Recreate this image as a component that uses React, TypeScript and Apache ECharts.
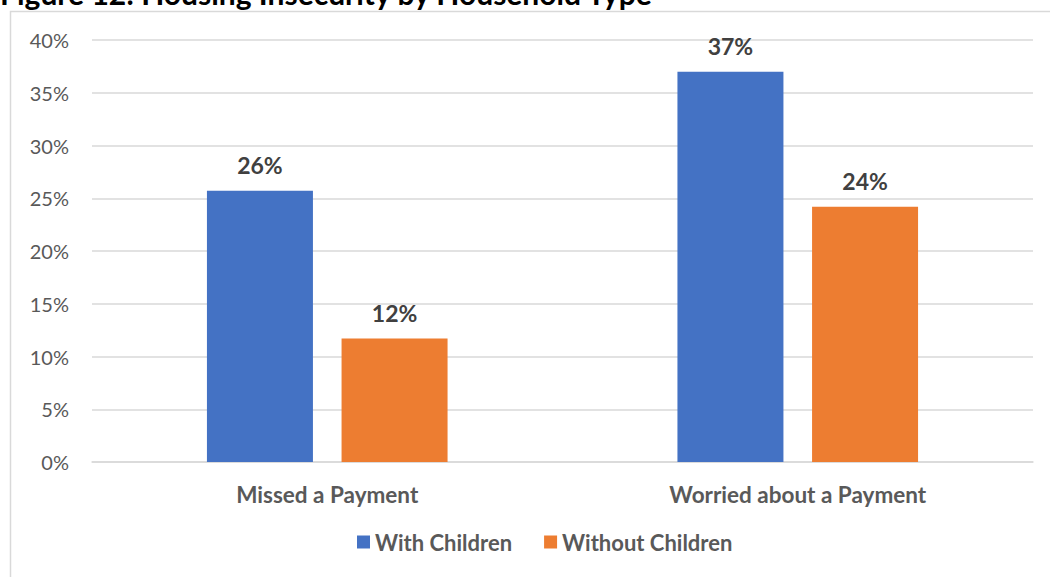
import React, { useEffect, useRef } from "react";
import * as echarts from "echarts";

const categories = ["Missed a Payment", "Worried about a Payment"];
const withChildren = [25.7, 37.0];
const withoutChildren = [11.7, 24.2];
const seriesNames = ["With Children", "Without Children"];
const titleText = "Figure 12: Housing Insecurity by Household Type";

const FONT = "Lato";

export default function App() {
  const ref = useRef<HTMLDivElement>(null);
  useEffect(() => {
    if (!ref.current) return;
    const chart = echarts.init(ref.current, null, { renderer: "svg" });
    const labelStyle = {
      show: true,
      position: "top" as const,
      distance: 14,
      color: "#404040",
      fontFamily: FONT,
      fontWeight: "bold" as const,
      fontSize: 23,
      formatter: (p: any) => Math.round(p.value) + "%",
    };
    chart.setOption({
      animation: false,
      backgroundColor: "#ffffff",
      textStyle: { fontFamily: FONT },
      graphic: [
        {
          type: "rect",
          shape: { x: 10.5, y: 11.5, width: 1100, height: 700 },
          style: { fill: "none", stroke: "#d9d9d9", lineWidth: 1.5 },
          silent: true,
          z: -10,
        },
        {
          type: "text",
          x: 0,
          y: -7,
          style: {
            text: titleText,
            fill: "#000000",
            font: `bold 30px ${FONT}`,
            verticalAlign: "middle",
            align: "left",
          },
        },
      ],
      grid: { left: 92, right: 17, top: 40, bottom: 115, containLabel: false },
      legend: {
        bottom: 19,
        left: 352,
        itemWidth: 13,
        itemHeight: 13,
        itemGap: 32,
        icon: "rect",
        textStyle: {
          color: "#595959",
          fontFamily: FONT,
          fontWeight: "bold",
          fontSize: 22,
        },
        data: seriesNames,
      },
      xAxis: {
        type: "category",
        data: categories,
        axisTick: { show: false },
        axisLine: { lineStyle: { color: "#d9d9d9", width: 1.5 } },
        axisLabel: {
          color: "#595959",
          fontFamily: FONT,
          fontWeight: "bold",
          fontSize: 22.5,
          margin: 21,
        },
      },
      yAxis: {
        type: "value",
        min: 0,
        max: 40,
        interval: 5,
        axisLine: { show: false },
        axisTick: { show: false },
        splitLine: { lineStyle: { color: "#d9d9d9", width: 1.5 } },
        axisLabel: {
          formatter: "{value}%",
          color: "#595959",
          fontFamily: FONT,
          fontSize: 20,
          margin: 23,
        },
      },
      series: [
        {
          name: seriesNames[0],
          type: "bar",
          data: withChildren,
          barWidth: 106,
          barGap: "27%",
          itemStyle: { color: "#4472C4" },
          label: labelStyle,
        },
        {
          name: seriesNames[1],
          type: "bar",
          data: withoutChildren,
          barWidth: 106,
          barGap: "27%",
          itemStyle: { color: "#ED7D31" },
          label: labelStyle,
        },
      ],
    });
    return () => chart.dispose();
  }, []);
  return (
    <div
      ref={ref}
      style={{ position: "absolute", left: 0, top: 0, width: 1050, height: 577 }}
    />
  );
}
